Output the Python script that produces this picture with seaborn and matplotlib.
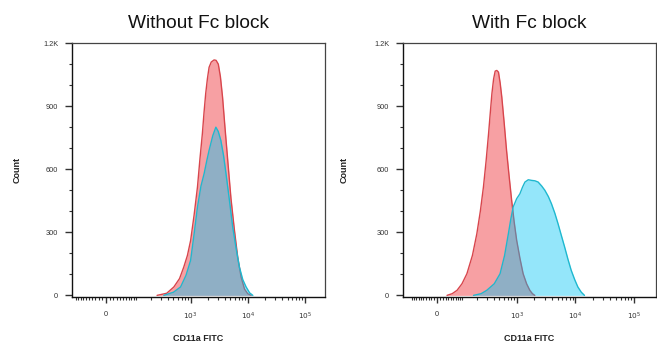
import numpy as np
import matplotlib
matplotlib.use("Agg")
import matplotlib.pyplot as plt
import seaborn as sns

# panel titles
titles = ["Without Fc block", "With Fc block"]

# histogram traces (CD11a FITC value, count)
left_red_x = [255, 380, 508, 640, 760, 880, 1000, 1150, 1320, 1460, 1610, 1720, 1840, 1970, 2110, 2300,
              2580, 2800, 3060, 3330, 3630, 4000, 4480, 5100, 5860, 6700, 7670, 8800, 10000, 11500]
left_red_y = [0, 10, 40, 80, 135, 190, 260, 380, 515, 650, 770, 870, 960, 1030, 1085, 1110,
              1120, 1118, 1100, 1040, 943, 800, 640, 460, 310, 180, 87, 30, 8, 0]
left_blue_x = [337, 500, 667, 830, 1000, 1150, 1320, 1520, 1730, 1920, 2110, 2450, 2770, 3050, 3390,
               3780, 4170, 4800, 5470, 6300, 7160, 8200, 9380, 10800, 12300]
left_blue_y = [0, 15, 40, 95, 166, 290, 420, 520, 580, 640, 690, 760, 800, 780, 737,
               665, 580, 450, 325, 220, 135, 75, 40, 12, 0]

right_red_x = [35, 55, 76, 100, 128, 165, 200, 232, 264, 295, 326, 350, 373, 400, 426, 455, 486, 520,
               555, 610, 670, 740, 820, 905, 1000, 1140, 1290, 1480, 1680, 1860, 2040]
right_red_y = [0, 8, 24, 55, 103, 190, 293, 400, 515, 640, 769, 870, 959, 1030, 1067, 1070, 1062, 1010,
               943, 820, 690, 570, 452, 350, 262, 175, 103, 55, 24, 8, 0]
right_blue_x = [173, 240, 303, 410, 518, 620, 720, 790, 870, 1000, 1135, 1260, 1385, 1580, 1800, 2050,
                2330, 2680, 3030, 3480, 3930, 4500, 5090, 5800, 6600, 7550, 8550, 9800, 11100, 12700, 14400]
right_blue_y = [0, 8, 24, 55, 103, 190, 293, 360, 420, 460, 483, 515, 539, 550, 547, 545,
                539, 520, 500, 470, 436, 390, 341, 285, 230, 170, 119, 75, 40, 15, 0]

# axis ticks
x_ticks = [0, 1e3, 1e4, 1e5]
x_tick_labels = ["0", "$10^3$", "$10^4$", "$10^5$"]
y_ticks = [0, 300, 600, 900, 1200]
y_tick_labels = ["0", "300", "600", "900", "1.2K"]

red_fill = "#f7a0a3"
red_edge = "#d8454c"
blue_fill = "#00c4f5"
blue_edge = "#1fb8cf"

sns.set_style("ticks")
plt.rcParams["font.family"] = ["Liberation Sans", "DejaVu Sans"]

fig = plt.figure(figsize=(6.57, 3.45), dpi=100)

panels = [
    # axes rect, asinh cofactor, x limits, traces, ylabel x
    ([0.1096, 0.139, 0.385, 0.736], 66, (-121, 2.25e5), (left_red_x, left_red_y, left_blue_x, left_blue_y), -0.20),
    ([0.6134, 0.139, 0.385, 0.736], 88, (-157, 2.39e5), (right_red_x, right_red_y, right_blue_x, right_blue_y), -0.215),
]

minor_x = ([-100, -90, -80, -70, -60, -50, -40, -30, -20, -10, 10, 20, 30, 40, 50, 60, 70, 80, 90, 100]
           + [m * 10 ** k for k in (2, 3, 4) for m in range(2, 10)])

for i, (rect, cof, xlim, traces, ylx) in enumerate(panels):
    ax = fig.add_axes(rect)
    ax.set_xscale("function", functions=(lambda v, c=cof: np.arcsinh(np.asarray(v) / c),
                                         lambda u, c=cof: c * np.sinh(np.asarray(u))))
    rx, ry, bx, by = traces

    ax.fill_between(rx, ry, 0, color=red_fill, lw=0, zorder=2)
    sns.lineplot(x=rx, y=ry, ax=ax, color=red_edge, lw=1.0, zorder=3)
    ax.fill_between(bx, by, 0, color=blue_fill, alpha=0.42, lw=0, zorder=4)
    sns.lineplot(x=bx, y=by, ax=ax, color=blue_edge, lw=1.0, zorder=5)

    ax.set_xlim(*xlim)
    ax.set_ylim(-8, 1200)
    ax.set_xticks(x_ticks)
    ax.set_xticklabels(x_tick_labels)
    ax.set_xticks(minor_x, minor=True)
    ax.set_yticks(y_ticks)
    ax.set_yticklabels(y_tick_labels)
    ax.set_yticks(range(100, 1200, 100), minor=True)

    ax.tick_params(axis="both", which="major", labelsize=5.3, colors="#333333",
                   length=4, width=1.0, pad=5)
    ax.tick_params(axis="both", which="minor", length=2.5, width=0.8, color="#333333")
    ax.tick_params(axis="y", which="major", length=5)
    ax.tick_params(axis="x", which="major", pad=6)

    for side in ["left", "bottom"]:
        ax.spines[side].set_color("#111111")
        ax.spines[side].set_linewidth(1.0)
    for side in ["top", "right"]:
        ax.spines[side].set_color("#444444")
        ax.spines[side].set_linewidth(0.9)

    ax.set_title(titles[i], fontsize=13.8, pad=11, color="#111111")
    ax.set_ylabel("Count", fontsize=6.5, fontweight="bold", color="#222222")
    ax.set_xlabel("CD11a FITC", fontsize=6.5, fontweight="bold", color="#222222")
    ax.yaxis.set_label_coords(ylx, 0.5)
    ax.xaxis.set_label_coords(0.5, -0.145)

fig.savefig("out.png", dpi=100)
